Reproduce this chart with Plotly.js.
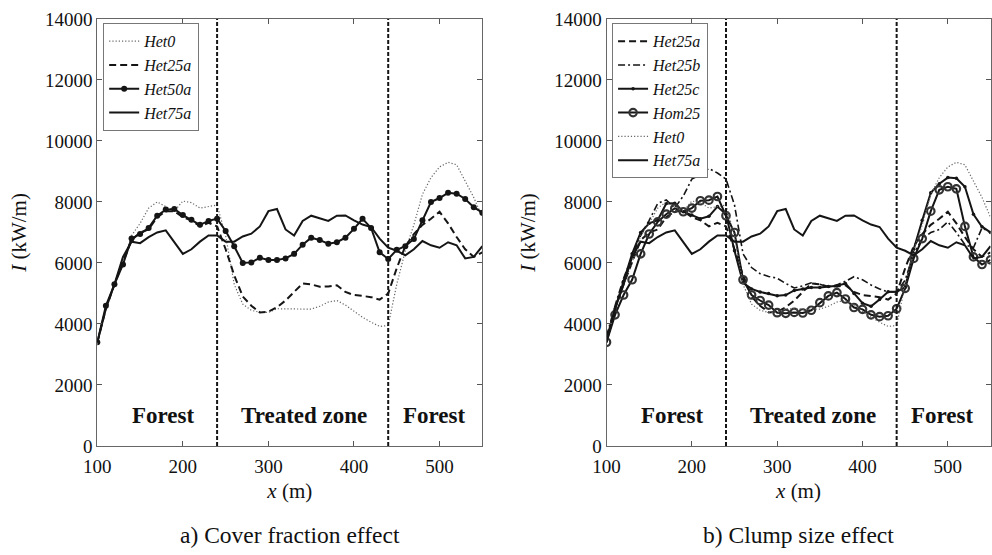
<!DOCTYPE html>
<html>
<head>
<meta charset="utf-8">
<script src="https://cdn.plot.ly/plotly-3.0.1.min.js"></script>
<style>html,body{margin:0;padding:0;background:#fff;}#chart{width:992px;height:555px;}</style>
</head>
<body>
<div id="chart"></div>
<script>
// ---------- data ----------
const xPos = [100,110,120,130,140,150,160,170,180,190,200,210,220,230,240,250,260,270,280,290,300,310,320,330,340,350,360,370,380,390,400,410,420,430,440,450,460,470,480,490,500,510,520,530,540,550];

const het0 = [3400,4500,5300,6000,6900,7300,7800,8000,7850,7700,8030,7980,7800,7850,7900,6900,5300,4650,4450,4380,4380,4500,4490,4490,4490,4490,4580,4720,4770,4620,4420,4220,4060,3920,3950,5300,6400,7250,8250,8800,9150,9300,9220,8700,8150,7500];
const het25a = [3400,4500,5300,6000,6750,7000,7100,7500,7700,7700,7500,7400,7200,7320,7200,6450,5600,4900,4600,4380,4400,4550,4770,5050,5330,5300,5220,5230,5270,5050,4950,4920,4880,4800,5000,5830,6550,6950,7250,7450,7680,7300,6850,6450,6200,6350];
const het50a = [3400,4600,5300,5950,6800,6950,7150,7550,7750,7770,7570,7420,7250,7380,7450,7050,6550,6000,6020,6170,6100,6100,6150,6300,6600,6830,6750,6630,6680,6830,7120,7450,7150,6350,6130,6430,6550,6790,7400,8000,8130,8300,8270,8100,7830,7650];
const het75a = [3400,4500,5300,6200,6700,6650,6850,7000,7070,6700,6300,6450,6700,6900,6900,6700,6700,6870,6960,7200,7700,7770,7100,6900,7380,7550,7470,7380,7550,7560,7400,7260,7180,6800,6500,6400,6250,6450,6720,6580,6500,6680,6580,6150,6200,6550];
const het25b = [3600,4600,5500,6200,6900,7400,7950,8070,7800,8200,8750,8900,9100,8950,8750,7900,6300,5850,5650,5560,5500,5330,5180,5250,5350,5300,5220,5280,5400,5550,5450,5280,5150,5050,5050,5440,6300,6800,7000,7100,7350,7000,6600,6500,7150,7000];
const het25c = [3500,4500,5400,6300,7000,7300,7400,7950,7960,7680,7570,7450,7530,7850,7600,6400,5350,5150,5050,5000,4930,4950,5100,5150,5200,5200,5230,5250,5330,5000,4680,4580,4800,5060,5060,5200,6450,7400,8300,8600,8800,8780,8500,7600,7190,7000];
const hom25 = [3400,4300,4950,5450,6300,6950,7350,7600,7790,7680,7800,8040,8060,8180,7550,7000,5450,4950,4770,4620,4370,4350,4380,4360,4450,4700,4920,5030,4820,4540,4480,4300,4240,4270,4500,5170,6150,6800,7700,8400,8500,8430,7200,6200,5950,6100];

const xTicks = [100,200,300,400,500];
const yTicks = [0,2000,4000,6000,8000,10000,12000,14000];
const zoneBounds = [240,440];
const zoneLabels = ['Forest','Treated zone','Forest'];
const zoneLabelX = [177,342,494];
const zoneLabelY = 1000;
const panelTitles = ['a) Cover fraction effect','b) Clump size effect'];

// ---------- styles ----------
const serif = "'Liberation Serif'";
const black = '#151515';
const stDot = {color:'#666', width:1.2, dash:'1.2px,2px'};
const stDash = {color:black, width:2, dash:'7px,4px'};
const stDashDot = {color:black, width:1.6, dash:'7px,3px,2px,3px'};
const stSolid = {color:black, width:2};

function tr(y, name, line, xa, ya, leg, marker){
  const t = {x:xPos, y:y, name:'<i>'+name+'</i>', type:'scatter', mode: marker ? 'lines+markers':'lines',
    line:line, xaxis:xa, yaxis:ya, legend:leg, hoverinfo:'skip'};
  if(marker) t.marker = marker;
  return t;
}

const mkFilled = {symbol:'circle', size:6, color:black};
const mkSmall = {symbol:'circle', size:3.5, color:black};
const mkOpen = {symbol:'circle-open', size:7.5, color:'#333', line:{width:2.2, color:'#333'}};

const traces = [
  tr(het0,'Het0',stDot,'x','y','legend'),
  tr(het25a,'Het25a',stDash,'x','y','legend'),
  tr(het50a,'Het50a',stSolid,'x','y','legend',mkFilled),
  tr(het75a,'Het75a',stSolid,'x','y','legend'),
  tr(het25a,'Het25a',stDash,'x2','y2','legend2'),
  tr(het25b,'Het25b',stDashDot,'x2','y2','legend2'),
  tr(het25c,'Het25c',stSolid,'x2','y2','legend2',mkSmall),
  tr(hom25,'Hom25',stSolid,'x2','y2','legend2',mkOpen),
  tr(het0,'Het0',stDot,'x2','y2','legend2'),
  tr(het75a,'Het75a',stSolid,'x2','y2','legend2')
];

function xax(domain, anchor){
  return {domain:domain, anchor:anchor, range:[100,550], tickvals:xTicks, tickformat:'d', ticks:'inside', ticklen:5,
    tickcolor:'#555', showline:true, linecolor:'#666', linewidth:1, mirror:'ticks', showgrid:false, zeroline:false,
    ticklabelstandoff:3,
    tickfont:{family:serif, size:19, color:'#111'},
    title:{text:'<i>x</i> (m)', font:{family:serif, size:21, color:'#111'}, standoff:7}};
}
function yax(anchor){
  return {domain:[0.1964,0.9658], anchor:anchor, range:[0,14000], tickvals:yTicks, tickformat:'d', ticks:'inside', ticklen:5,
    tickcolor:'#555', showline:true, linecolor:'#666', linewidth:1, mirror:'ticks', showgrid:false, zeroline:false,
    tickfont:{family:serif, size:19, color:'#111'},
    title:{text:'<i>I</i> (kW/m)', font:{family:serif, size:21, color:'#111'}, standoff:12}};
}

const shapes = [];
['x','x2'].forEach((xa,i)=>{
  const ya = i===0 ? 'y':'y2';
  zoneBounds.forEach(b=>{
    shapes.push({type:'line', xref:xa, yref:ya, x0:b, x1:b, y0:0, y1:14000,
      line:{color:black, width:2, dash:'4px,2px'}});
  });
});

const annotations = [];
['x','x2'].forEach((xa,i)=>{
  const ya = i===0 ? 'y':'y2';
  zoneLabels.forEach((lab,j)=>{
    annotations.push({xref:xa, yref:ya, x:zoneLabelX[j], y:zoneLabelY, text:'<b>'+lab+'</b>', showarrow:false,
      font:{family:serif, size:23, color:'#111'}});
  });
});
annotations.push({xref:'paper', yref:'paper', x:0.2925, y:0.036, xanchor:'center', yanchor:'middle', text:panelTitles[0], showarrow:false,
  font:{family:serif, size:23.5, color:'#111'}});
annotations.push({xref:'paper', yref:'paper', x:0.805, y:0.036, xanchor:'center', yanchor:'middle', text:panelTitles[1], showarrow:false,
  font:{family:serif, size:23.5, color:'#111'}});

const legBase = {xanchor:'left', yanchor:'top', bgcolor:'#fff', bordercolor:'#777', borderwidth:1,
  font:{family:serif, size:16, color:'#111'}, tracegroupgap:0, itemwidth:30};

const layout = {
  width:992, height:555, margin:{l:0, r:0, t:0, b:0},
  paper_bgcolor:'#fff', plot_bgcolor:'#fff', showlegend:true,
  xaxis: xax([0.0981,0.4862],'y'),
  yaxis: yax('x'),
  xaxis2: xax([0.6114,0.9985],'y2'),
  yaxis2: yax('x2'),
  legend: Object.assign({x:0.104, y:0.958}, legBase),
  legend2: Object.assign({x:0.617, y:0.958}, legBase),
  shapes:shapes, annotations:annotations
};

Plotly.newPlot('chart', traces, layout, {staticPlot:true, displayModeBar:false});
</script>
</body>
</html>
